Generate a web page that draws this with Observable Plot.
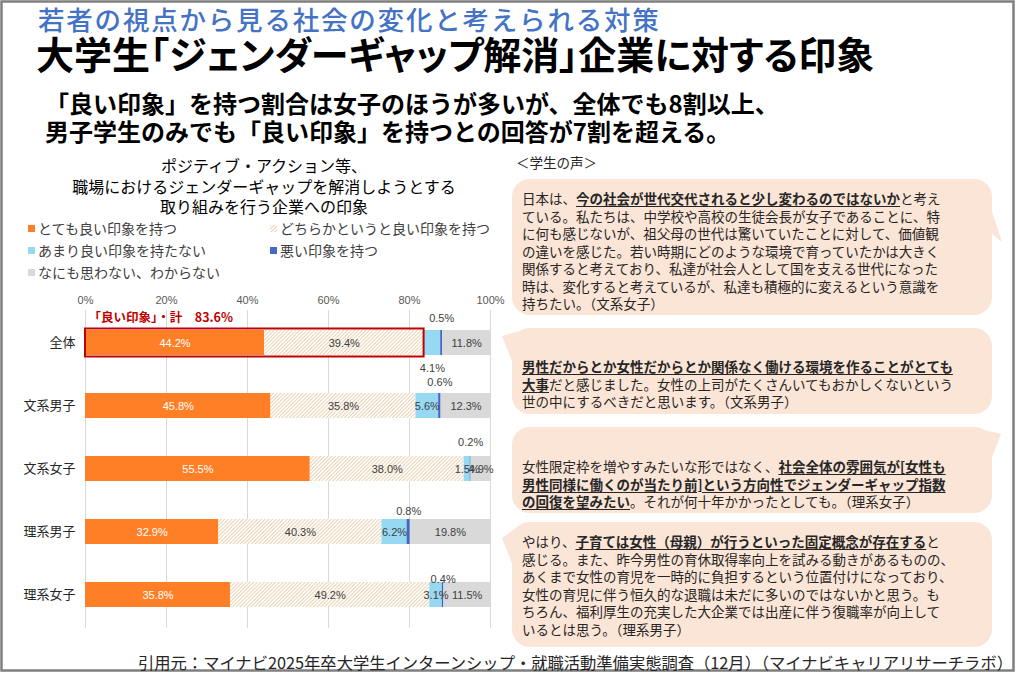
<!DOCTYPE html>
<html><head><meta charset="utf-8">
<script src="https://cdn.jsdelivr.net/npm/d3@7"></script>
<script src="https://cdn.jsdelivr.net/npm/@observablehq/plot@0.6"></script>
<style>
html,body{margin:0;padding:0;background:#fff;}
#page{position:relative;width:1019px;height:674px;overflow:hidden;font-family:"Noto Sans CJK JP","Noto Sans",sans-serif;color:#262626;}
.abs{position:absolute;white-space:nowrap;}
.bubble{position:absolute;white-space:nowrap;font-size:13.5px;line-height:17.5px;color:#262626;left:522px;}
.bubble b{font-weight:bold;text-decoration:underline;text-underline-offset:2px;text-decoration-thickness:1px;}
.leg{position:absolute;white-space:nowrap;font-size:14px;line-height:18px;color:#404040;}
.leg i{display:inline-block;width:7px;height:7px;margin-right:3px;vertical-align:2px;}
#chart svg [aria-label="y-axis tick label"] text{fill:#262626;}
</style></head><body><div id="page"></div>
<script>
// ---- data ----
const categories = ["全体", "文系男子", "文系女子", "理系男子", "理系女子"];
const seriesNames = ["とても良い印象を持つ", "どちらかというと良い印象を持つ", "あまり良い印象を持たない", "悪い印象を持つ", "なにも思わない、わからない"];
const veryGood     = [44.2, 45.8, 55.5, 32.9, 35.8];
const somewhatGood = [39.4, 35.8, 38.0, 40.3, 49.2];
const notVeryGood  = [4.1, 5.6, 1.5, 6.2, 3.1];
const bad          = [0.5, 0.6, 0.2, 0.8, 0.4];
const noOpinion    = [11.8, 12.3, 4.9, 19.8, 11.5];
const xTicks = [0, 20, 40, 60, 80, 100];
const palette = ["#FF7F27", "url(#hatch)", "#97D8F3", "#4568C2", "#D9D9D9"];

const seriesValues = [veryGood, somewhatGood, notVeryGood, bad, noOpinion];
const rows = [];
categories.forEach((cat, i) => {
  let acc = 0;
  seriesValues.forEach((vals, s) => {
    const v = vals[i];
    rows.push({cat, s, series: seriesNames[s], value: v, x1: acc, x2: acc + v, mid: acc + v / 2, label: v.toFixed(1) + "%"});
    acc += v;
  });
});
const goodTotal = Math.round((veryGood[0] + somewhatGood[0]) * 10) / 10;

const page = document.getElementById("page");
function add(html, cls, style) {
  const d = document.createElement("div");
  d.className = cls; d.style.cssText = style; d.innerHTML = html; page.appendChild(d); return d;
}

// ---- background shapes (frame + speech bubbles) ----
const bg = d3.select(page).append("svg").attr("width", 1019).attr("height", 674)
  .style("position", "absolute").style("left", 0).style("top", 0);
const bubbleFill = "#FBE5D6";
function bubble(x, y, w, h, r, tail) {
  bg.append("rect").attr("x", x).attr("y", y).attr("width", w).attr("height", h).attr("rx", r).attr("fill", bubbleFill);
  bg.append("polygon").attr("points", tail.map(p => p.join(",")).join(" ")).attr("fill", bubbleFill);
}
bubble(512, 179, 480, 136, 18, [[985, 190], [1002, 242], [990, 232]]);
bubble(512, 328, 480, 86, 18, [[520, 331], [502, 336], [513, 364]]);
bubble(512, 427, 480, 86, 18, [[985, 430], [1001, 434], [991, 460]]);
bubble(512, 522, 480, 125, 18, [[520, 525], [502, 538], [513, 566]]);
bg.append("rect").attr("x", 1.5).attr("y", 1.5).attr("width", 1012).attr("height", 669)
  .attr("fill", "none").attr("stroke", "#7F7F7F").attr("stroke-width", 2.5);

// ---- header ----
add("若者の視点から見る社会の変化と考えられる対策", "abs", "left:38px;top:5px;font-size:26.5px;line-height:28px;letter-spacing:1.8px;color:#4472C4;font-weight:500;");
add("大学生「ジェンダーギャップ解消」企業に対する印象", "abs", "left:36px;top:33px;font-size:38px;line-height:40px;color:#000;font-weight:bold;font-feature-settings:'palt';");
add("「良い印象」を持つ割合は女子のほうが多いが、全体でも8割以上、<br>男子学生のみでも「良い印象」を持つとの回答が7割を超える。", "abs",
  "left:45px;top:89px;font-size:24px;line-height:28px;color:#000;font-weight:bold;");

// ---- chart title & legend ----
add("ポジティブ・アクション等、<br>職場におけるジェンダーギャップを解消しようとする<br>取り組みを行う企業への印象", "abs",
  "left:64px;width:400px;text-align:center;top:155px;font-size:16px;line-height:20.5px;color:#000;");
const legendPos = [[28, 228], [270, 228], [28, 250], [270, 250], [28, 272]];
seriesNames.forEach((name, s) => {
  const [lx, ly] = legendPos[s];
  const sw = s === 1
    ? `<svg width="7" height="7" style="margin-right:3px;vertical-align:2px"><rect width="7" height="7" fill="url(#hatch)"/></svg>`
    : `<i style="background:${palette[s]}"></i>`;
  add(sw + name, "leg", `left:${lx}px;top:${ly - 9}px;`);
});

// ---- chart ----
const H = 350, mTop = 30, mBottom = 2;
const step = (H - mTop - mBottom) / categories.length;
const bw = step * 0.4;
const JP = "'Noto Sans CJK JP', sans-serif";
const labelDy = {"全体": -25, "文系男子": -24, "文系女子": -27, "理系男子": -21, "理系女子": -16};
const withLeader = ["全体", "文系男子", "文系女子"];

const marks = [
  Plot.gridX(xTicks, {stroke: "#D9D9D9", strokeOpacity: 1}),
  Plot.axisX({anchor: "top", ticks: xTicks, tickFormat: d => d + "%", tickSize: 0, tickPadding: 7, fontSize: 11, label: null}),
  Plot.axisY({tickSize: 0, tickPadding: 10, fontSize: 13, fontFamily: JP, label: null}),
  Plot.barX(rows, {x1: "x1", x2: "x2", y: "cat", fill: "series"}),
  Plot.barX([{cat: categories[0], x1: 0, x2: goodTotal}], {x1: "x1", x2: "x2", y: "cat", fill: "none", stroke: "#C00000", strokeWidth: 2, insetTop: -1.5, insetBottom: -1.5}),
  Plot.text([{cat: categories[0], t: "「良い印象」・計　" + goodTotal.toFixed(1) + "%"}], {x: 0, y: "cat", text: "t", dx: 3, dy: -25, textAnchor: "start", fill: "#C00000", fontWeight: "bold", fontSize: 12.5, fontFamily: JP}),
  Plot.text(rows.filter(r => r.s === 0), {x: "mid", y: "cat", text: "label", fill: "#FFFFFF"}),
  Plot.text(rows.filter(r => r.s === 1 || r.s === 4 || (r.s === 2 && r.cat !== categories[0])), {x: "mid", y: "cat", text: "label", fill: "#404040"}),
  Plot.text(rows.filter(r => r.s === 2 && r.cat === categories[0]), {x: "mid", y: "cat", text: "label", fill: "#404040", dy: 25}),
  Plot.ruleX(rows.filter(r => r.s === 2 && r.cat === categories[0]), {x: "mid", y: "cat", stroke: "#A6A6A6", insetTop: bw, insetBottom: -6})
];
categories.forEach(cat => {
  const r = rows.filter(d => d.s === 3 && d.cat === cat);
  marks.push(Plot.text(r, {x: "mid", y: "cat", text: "label", fill: "#404040", dy: labelDy[cat]}));
  if (withLeader.includes(cat)) {
    const gap = -labelDy[cat] - 6 - bw / 2;
    marks.push(Plot.ruleX(r, {x: "mid", y: "cat", stroke: "#A6A6A6", insetTop: -gap, insetBottom: bw}));
  }
});

const svg = Plot.plot({
  width: 500, height: H,
  marginLeft: 85, marginRight: 10, marginTop: mTop, marginBottom: mBottom,
  style: {fontFamily: "'Liberation Sans', Arial, sans-serif", fontSize: "11px", color: "#595959", background: "transparent", overflow: "visible"},
  x: {domain: [0, 100]},
  y: {domain: categories, paddingInner: 0.6, paddingOuter: 0.3},
  color: {domain: seriesNames, range: palette},
  marks
});
d3.select(svg).insert("defs", ":first-child").html(
  `<pattern id="hatch" patternUnits="userSpaceOnUse" width="2.6" height="2.6" patternTransform="rotate(45)">
     <rect width="2.6" height="2.6" fill="#FFFCF7"/>
     <line x1="0.4" y1="0" x2="0.4" y2="2.6" stroke="#DDC4A2" stroke-width="0.7"/>
   </pattern>`);
const holder = add("", "abs", "left:0;top:280px;");
holder.id = "chart";
holder.appendChild(svg);

// ---- student voices ----
add("＜学生の声＞", "abs", "left:516px;top:153px;font-size:13.5px;line-height:18px;color:#262626;");
add("日本は、<b>今の社会が世代交代されると少し変わるのではないか</b>と考え<br>ている。私たちは、中学校や高校の生徒会長が女子であることに、特<br>に何も感じないが、祖父母の世代は驚いていたことに対して、価値観<br>の違いを感じた。若い時期にどのような環境で育っていたかは大きく<br>関係すると考えており、私達が社会人として国を支える世代になった<br>時は、変化すると考えているが、私達も積極的に変えるという意識を<br>持ちたい。（文系女子）",
  "bubble", "top:190px;");
add("<b>男性だからとか女性だからとか関係なく働ける環境を作ることがとても</b><br><b>大事</b>だと感じました。女性の上司がたくさんいてもおかしくないという<br>世の中にするべきだと思います。（文系男子）",
  "bubble", "top:358px;");
add("女性限定枠を増やすみたいな形ではなく、<b>社会全体の雰囲気が[女性も</b><br><b>男性同様に働くのが当たり前]という方向性でジェンダーギャップ指数</b><br><b>の回復を望みたい</b>。それが何十年かかったとしても。（理系女子）",
  "bubble", "top:458px;");
add("やはり、<b>子育ては女性（母親）が行うといった固定概念が存在する</b>と<br>感じる。また、昨今男性の育休取得率向上を試みる動きがあるものの、<br>あくまで女性の育児を一時的に負担するという位置付けになっており、<br>女性の育児に伴う恒久的な退職は未だに多いのではないかと思う。も<br>ちろん、福利厚生の充実した大企業では出産に伴う復職率が向上して<br>いるとは思う。（理系男子）",
  "bubble", "top:533px;");

// ---- caption ----
add("引用元：マイナビ2025年卒大学生インターンシップ・就職活動準備実態調査（12月）（マイナビキャリアリサーチラボ）", "abs",
  "left:138px;top:652px;font-size:16.3px;line-height:20px;color:#262626;");
</script></body></html>
